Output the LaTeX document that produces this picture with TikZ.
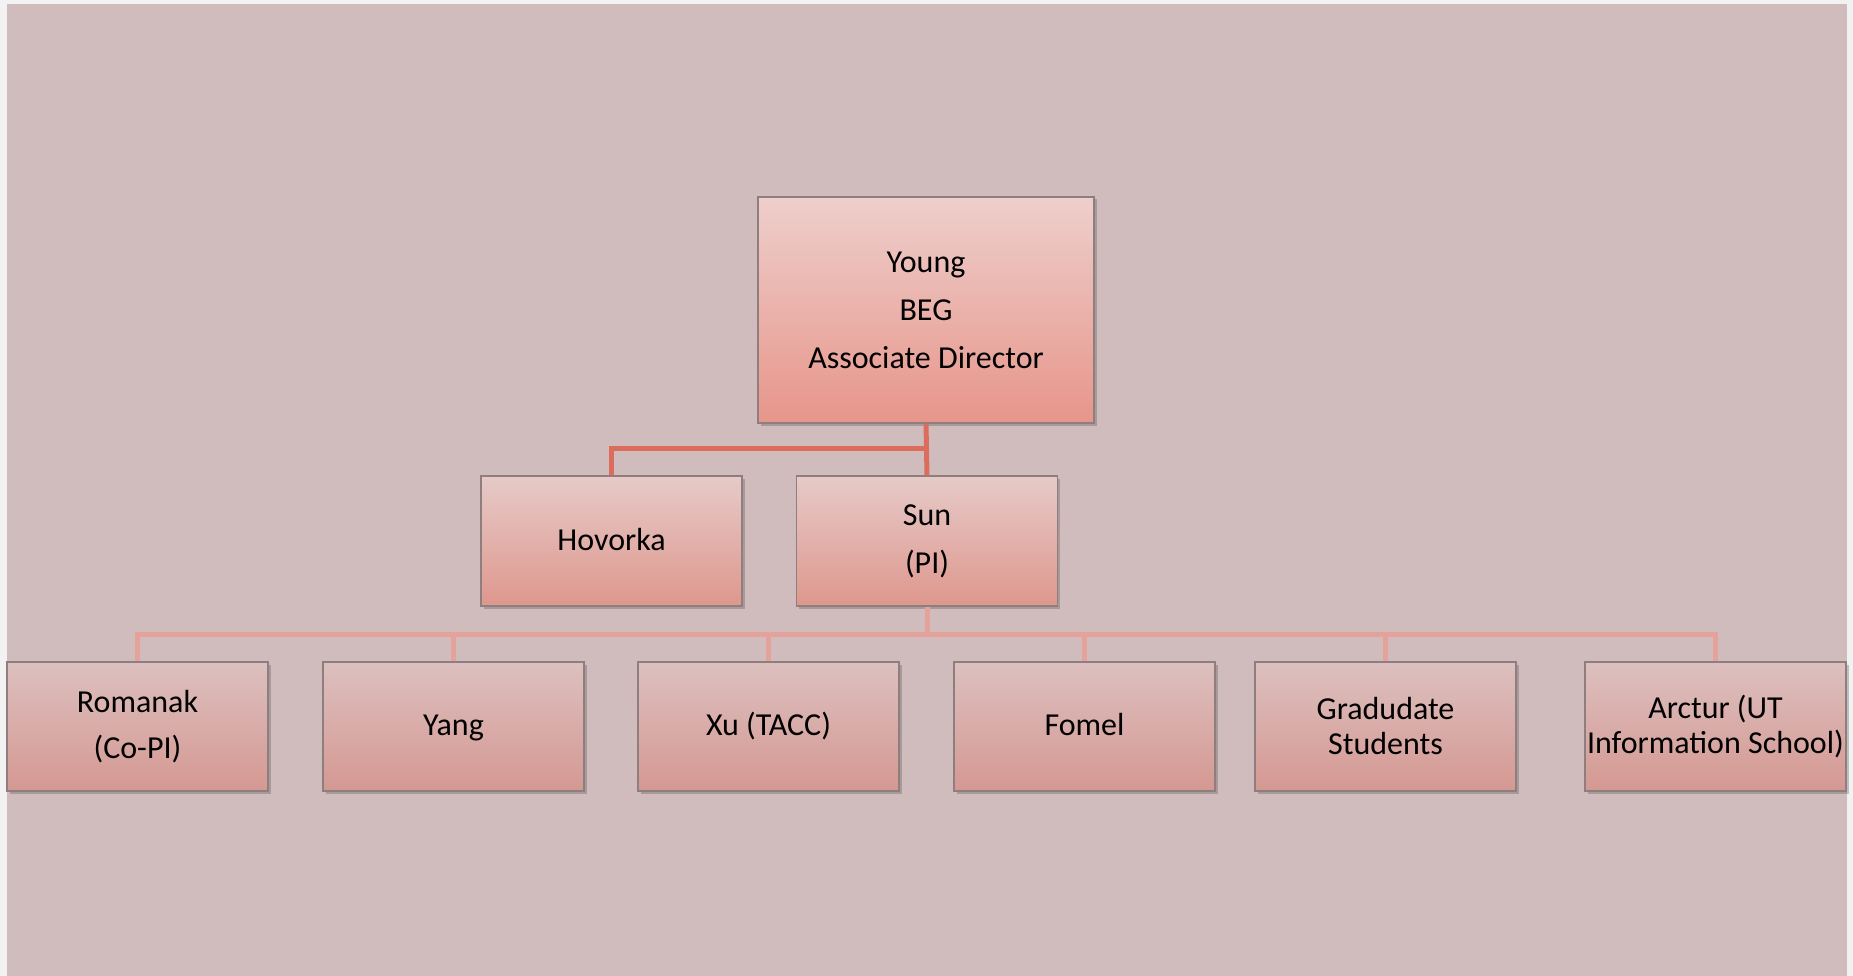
\documentclass[tikz,border=0pt]{standalone}
\usepackage{fontspec}
\setmainfont{Carlito}
\usetikzlibrary{shadows}
\definecolor{outerbg}{HTML}{F2F2F2}
\definecolor{pinkbg}{HTML}{D0BCBD}
\definecolor{topline}{HTML}{DC6D5D}
\definecolor{botline}{HTML}{E5A29B}
\definecolor{ytop}{HTML}{EECFCC}
\definecolor{ybot}{HTML}{E7958A}
\definecolor{mtop}{HTML}{E6CAC8}
\definecolor{mbot}{HTML}{DE978D}
\definecolor{btop}{HTML}{DCC0BF}
\definecolor{bbot}{HTML}{D59892}
\definecolor{boxborder}{HTML}{8E7E7E}
\tikzset{
  orgbox/.style={draw=boxborder, line width=1.3pt, align=center, inner sep=0pt,
    font=\fontsize{32}{35}\selectfont,
    drop shadow={shadow xshift=2.5pt, shadow yshift=-2.5pt, opacity=0.3, fill=black!70}},
  oneline/.style={text height=23pt, text depth=5pt},
  topbox/.style={orgbox, top color=ytop, bottom color=ybot, minimum width=336pt, minimum height=226pt},
  midbox/.style={orgbox, top color=mtop, bottom color=mbot, minimum width=261pt, minimum height=130pt},
  lowbox/.style={orgbox, top color=btop, bottom color=bbot, minimum width=261pt, minimum height=129pt},
  topwire/.style={draw=topline, line width=5pt, line join=miter},
  lowwire/.style={draw=botline, line width=5pt, line join=miter},
}
\begin{document}
\begin{tikzpicture}[x=1pt, y=-1pt]
\useasboundingbox (0,0) rectangle (1853,976);
\fill[outerbg] (0,0) rectangle (1853,976);
\fill[pinkbg] (7,4) rectangle (1847,976);

\node[topbox] (young) at (926,310) {Young\\[13pt]BEG\\[13pt]Associate Director};
\node[midbox, oneline] (hov) at (611.5,541) {Hovorka};
\node[midbox] (sun) at (927,541) {Sun\\[13pt](PI)};

\node[lowbox] (rom) at (137.5,726.5) {Romanak\\[11pt](Co-PI)};
\node[lowbox, oneline] (yang) at (453.5,726.5) {Yang};
\node[lowbox, oneline] (xu) at (768.5,726.5) {Xu (TACC)};
\node[lowbox, oneline] (fomel) at (1084.5,726.5) {Fomel};
\node[lowbox] (grad) at (1385.5,726.5) {Gradudate\\Students};
\node[lowbox] (arc) at (1715.5,726.5) {Arctur (UT\\Information School)};

\coordinate (tbus) at (926,448);
\coordinate (bus) at (927,634);

\draw[topwire] (young.south) -- (sun.north);
\draw[topwire] (hov.north) |- (tbus);
\draw[lowwire] (sun.south) -- (bus);
\foreach \n in {rom,yang,xu,fomel,grad,arc}
  \draw[lowwire] (\n.north) |- (bus);
\end{tikzpicture}
\end{document}
